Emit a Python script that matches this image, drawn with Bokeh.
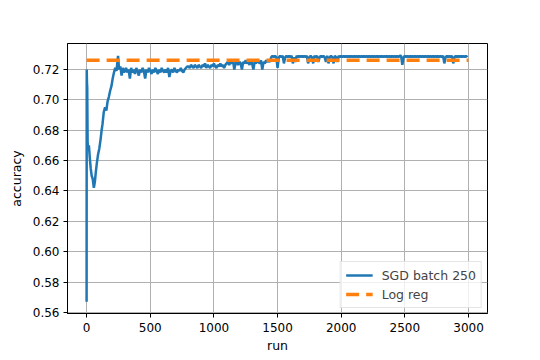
from bokeh.plotting import figure
from bokeh.models import Range1d, FixedTicker, PrintfTickFormatter, Legend, LegendItem
from bokeh.embed import file_html
from bokeh.resources import INLINE

# ---- data ----
early_runs = [0, 1, 3, 5, 8, 12, 18, 25, 32, 40,
              48, 57, 65, 72, 80, 90, 100, 110, 118, 125,
              135, 145, 155, 165, 175, 185, 195, 205, 215, 225,
              235, 247, 255, 265, 275, 285, 295]
late_runs = list(range(300, 3000, 10))
sgd_runs = early_runs + late_runs

sgd_acc = [
    # 0 - 295
    0.567, 0.720, 0.711, 0.708, 0.672, 0.668, 0.670, 0.662, 0.655, 0.650,
    0.648, 0.642, 0.646, 0.652, 0.658, 0.664, 0.668, 0.674, 0.680, 0.684,
    0.692, 0.695, 0.693, 0.699, 0.702, 0.706, 0.709, 0.714, 0.718, 0.721,
    0.719, 0.729, 0.720, 0.722, 0.716, 0.721, 0.718,
    # 300 - 790
    0.719, 0.721, 0.718, 0.720, 0.714, 0.721, 0.718, 0.720, 0.717, 0.721,
    0.719, 0.716, 0.720, 0.718, 0.721, 0.719, 0.714, 0.720, 0.718, 0.721,
    0.719, 0.717, 0.720, 0.718, 0.721, 0.719, 0.717, 0.720, 0.718, 0.721,
    0.719, 0.718, 0.720, 0.718, 0.721, 0.715, 0.719, 0.720, 0.718, 0.721,
    0.719, 0.718, 0.720, 0.719, 0.721, 0.719, 0.718, 0.720, 0.721, 0.722,
    # 800 - 1090
    0.722, 0.721, 0.723, 0.722, 0.721, 0.723, 0.722, 0.721, 0.723, 0.722,
    0.721, 0.723, 0.722, 0.724, 0.721, 0.723, 0.722, 0.721, 0.723, 0.722,
    0.724, 0.722, 0.721, 0.723, 0.722, 0.724, 0.722, 0.723, 0.721, 0.723,
    # 1100 - 1440
    0.724, 0.725, 0.723, 0.725, 0.724, 0.726, 0.720, 0.724, 0.725, 0.723,
    0.725, 0.724, 0.720, 0.725, 0.724, 0.726, 0.724, 0.725, 0.723, 0.726,
    0.724, 0.720, 0.725, 0.724, 0.726, 0.725, 0.724, 0.726, 0.720, 0.725,
    0.724, 0.726, 0.725, 0.726, 0.725,
    # 1450 - 2990
    0.728, 0.729, 0.728, 0.729, 0.728, 0.721, 0.728, 0.729, 0.728, 0.729,
    0.724, 0.728, 0.729, 0.728, 0.729, 0.728, 0.729, 0.724, 0.728, 0.725,
    0.729, 0.728, 0.729, 0.728, 0.729, 0.728, 0.729, 0.728, 0.729, 0.724,
    0.728, 0.729, 0.728, 0.724, 0.729, 0.728, 0.729, 0.725, 0.728, 0.729,
    0.728, 0.729, 0.728, 0.725, 0.729, 0.724, 0.728, 0.729, 0.728, 0.724,
    0.729, 0.728, 0.725, 0.729, 0.728, 0.729, 0.728, 0.729, 0.728, 0.729,
    0.728, 0.729, 0.728, 0.729, 0.728, 0.729, 0.728, 0.729, 0.728, 0.729,
    0.728, 0.729, 0.728, 0.729, 0.728, 0.729, 0.728, 0.729, 0.728, 0.729,
    0.728, 0.729, 0.728, 0.729, 0.728, 0.729, 0.728, 0.729, 0.728, 0.729,
    0.728, 0.729, 0.728, 0.729, 0.728, 0.729, 0.728, 0.729, 0.728, 0.729,
    0.728, 0.729, 0.729, 0.723, 0.728, 0.729, 0.728, 0.729, 0.728, 0.729,
    0.728, 0.729, 0.728, 0.729, 0.728, 0.729, 0.728, 0.729, 0.728, 0.729,
    0.728, 0.729, 0.728, 0.729, 0.728, 0.729, 0.728, 0.729, 0.728, 0.729,
    0.728, 0.729, 0.728, 0.729, 0.728, 0.729, 0.724, 0.728, 0.729, 0.728,
    0.729, 0.728, 0.729, 0.724, 0.728, 0.729, 0.728, 0.729, 0.728, 0.729,
    0.728, 0.729, 0.728, 0.729, 0.728,
]

logreg_runs = [0, 2999]
logreg_acc = [0.726, 0.726]

x_ticks = [0, 500, 1000, 1500, 2000, 2500, 3000]
y_ticks = [0.56, 0.58, 0.60, 0.62, 0.64, 0.66, 0.68, 0.70, 0.72]

series_labels = ["SGD batch 250", "Log reg"]

FONT = "DejaVu Sans"

p = figure(frame_width=420, frame_height=270,
           output_backend="svg", toolbar_location=None,
           x_range=Range1d(-150, 3149), y_range=Range1d(0.5593, 0.7371),
           min_border_left=67, min_border_top=43, min_border_right=30,
           min_border_bottom=0)

p.background_fill_color = "white"
p.border_fill_color = "white"
p.outline_line_color = "black"
p.outline_line_width = 1

l1 = p.line(sgd_runs, sgd_acc, line_color="#1f77b4", line_width=2.5)
l2 = p.line(logreg_runs, logreg_acc, line_color="#ff7f0e", line_width=3.5,
            line_dash="13 7")

for ax in (p.xaxis[0], p.yaxis[0]):
    ax.axis_line_color = "black"
    ax.major_tick_line_color = "black"
    ax.major_tick_out = 4
    ax.major_tick_in = 0
    ax.minor_tick_line_color = None
    ax.major_label_text_font = FONT
    ax.major_label_text_font_size = "12px"
    ax.major_label_text_color = "black"
    ax.axis_label_text_font = FONT
    ax.axis_label_text_font_size = "12.5px"
    ax.axis_label_text_font_style = "normal"
    ax.axis_label_text_color = "black"

p.xaxis.ticker = FixedTicker(ticks=x_ticks)
p.yaxis.ticker = FixedTicker(ticks=y_ticks)
p.yaxis.formatter = PrintfTickFormatter(format="%.2f")
p.xaxis.axis_label = "run"
p.yaxis.axis_label = "accuracy"
p.xaxis.major_label_standoff = 5
p.xaxis.axis_label_standoff = 3
p.yaxis.major_label_standoff = 4
p.yaxis.axis_label_standoff = 6

p.grid.grid_line_color = "#b0b0b0"
p.grid.grid_line_width = 1

legend = Legend(items=[LegendItem(label=series_labels[0], renderers=[l1]),
                       LegendItem(label=series_labels[1], renderers=[l2])],
                location="bottom_right")
legend.label_text_font = FONT
legend.label_text_font_size = "12.5px"
legend.border_line_color = "#cccccc"
legend.border_line_width = 1
legend.background_fill_alpha = 0.8
legend.glyph_width = 27
legend.glyph_height = 16
legend.label_height = 16
legend.label_standoff = 9
legend.spacing = 3
legend.padding = 5
legend.margin = 5
p.add_layout(legend)

open("out.html", "w").write(file_html(p, INLINE))
